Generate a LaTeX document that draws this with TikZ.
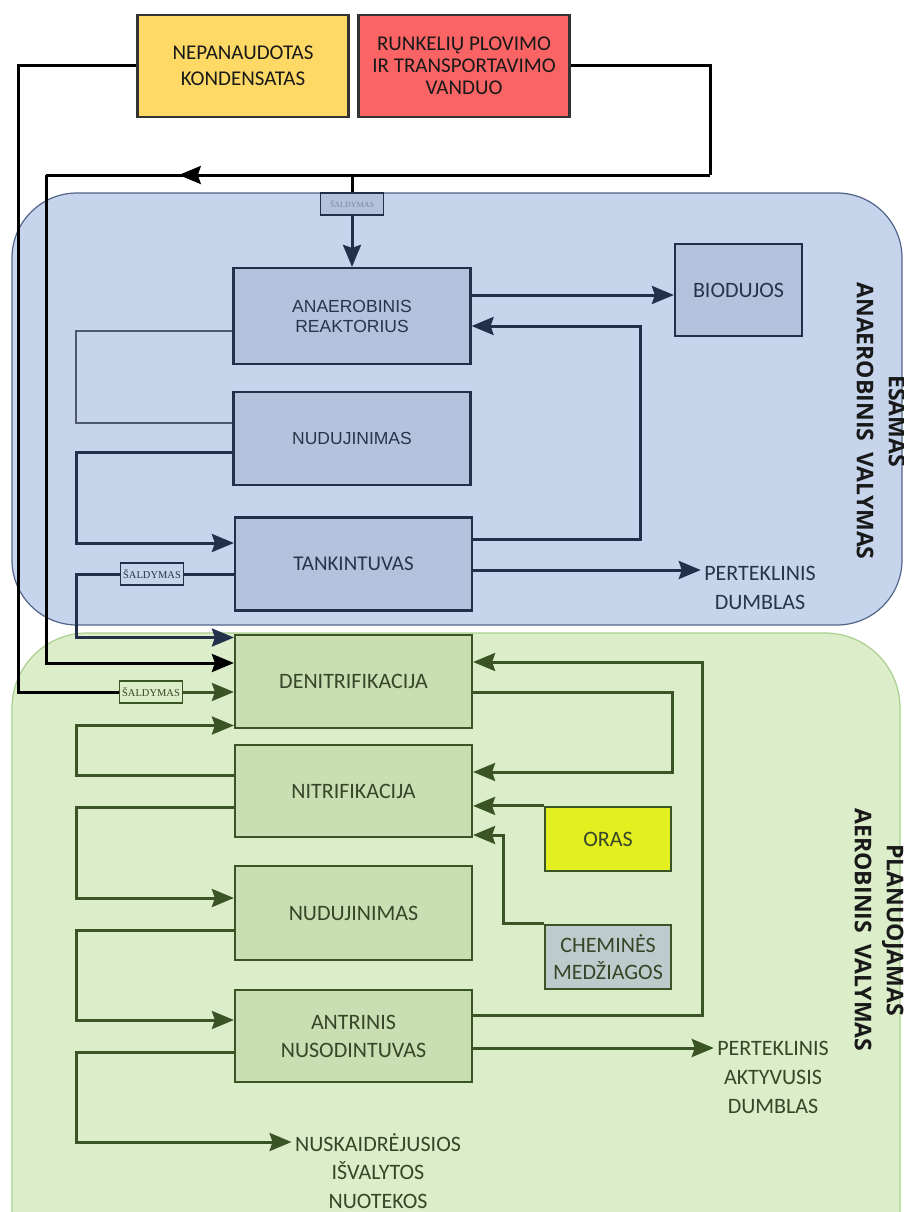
\documentclass[tikz,border=0pt]{standalone}
\usepackage{fontspec}
\setmainfont{Carlito}
\newfontfamily\arialfont{Liberation Sans}
\newfontfamily\coolfont{Liberation Serif}
\newfontfamily\zonefont{Open Sans}
\usetikzlibrary{arrows.meta, positioning, calc, decorations.markings}

\definecolor{zoneblue}{HTML}{C6D4EC}
\definecolor{zonebluedraw}{HTML}{52648A}
\definecolor{upfill}{HTML}{B3C3DE}
\definecolor{upline}{HTML}{22304A}
\definecolor{uptext}{HTML}{283549}
\definecolor{zonegreen}{HTML}{DBEDC9}
\definecolor{zonegreendraw}{HTML}{AACF8E}
\definecolor{lowfill}{HTML}{C9DEB3}
\definecolor{lowline}{HTML}{3A5426}
\definecolor{lowtext}{HTML}{364628}
\definecolor{kondfill}{HTML}{FFD966}
\definecolor{runkfill}{HTML}{FA6464}
\definecolor{orasfill}{HTML}{E3EF1E}
\definecolor{chemfill}{HTML}{BECBCC}

\begin{document}
\begin{tikzpicture}[x=1pt, y=-1pt,
    zone/.style    = {line width=1.2pt, rounded corners=65pt},
    upbox/.style   = {draw=upline, fill=upfill, line width=2.2pt, minimum width=237pt,
                      minimum height=93pt, inner sep=0pt, align=center, text=uptext,
                      font=\fontsize{17.5}{20}\arialfont},
    lowbox/.style  = {draw=lowline, fill=lowfill, line width=2.2pt, minimum width=237pt,
                      minimum height=93pt, inner sep=0pt, align=center, text=lowtext,
                      font=\fontsize{22}{28}\selectfont},
    srcbox/.style  = {draw=black!80, line width=2.4pt, minimum width=211pt,
                      minimum height=102pt, inner sep=0pt, align=center, text=black!90,
                      font=\fontsize{21}{26}\selectfont},
    cool/.style    = {line width=1.6pt, minimum width=63pt, minimum height=22pt,
                      inner sep=0pt, font=\fontsize{10.5}{12}\coolfont},
    outtxt/.style  = {align=center, font=\fontsize{22}{29}\selectfont},
    zonelbl/.style = {rotate=-90, align=center, text=black!90,
                      font=\fontsize{23}{32}\zonefont\bfseries},
    tip/.style     = {-{Stealth[length=22pt, width=18pt, inset=3pt]}},
    blk/.style     = {draw=black, line width=3pt},
    upln/.style    = {draw=upline, line width=3pt},
    upthin/.style  = {draw=upline!80, line width=1.8pt},
    lowln/.style   = {draw=lowline, line width=3pt},
]

\clip (0,0) rectangle (904,1212);
\fill[white] (0,0) rectangle (904,1212);

%% ---- Zones ----
\draw[zone, draw=zonebluedraw, fill=zoneblue] (12,193) rectangle (902,625);
\draw[zone, draw=zonegreendraw, fill=zonegreen, rounded corners=75pt] (12,633) rectangle (900,1290);

\node[zonelbl] (zup)  at (881,421) {ESAMAS\\ANAEROBINIS\enspace VALYMAS};
\node[zonelbl] (zlow) at (879,930) {PLANUOJAMAS\\AEROBINIS\enspace VALYMAS};

%% ---- Column positions ----
\def\xM{352}     % main column
\coordinate (lbus) at (76,0);
\coordinate (rb1)  at (672,0);
\coordinate (rb2)  at (702,0);
\coordinate (cb)   at (503,0);

%% ---- Sources ----
\node[srcbox, fill=kondfill] (kond) at (243,66) {NEPANAUDOTAS\\KONDENSATAS};
\node[srcbox, fill=runkfill, font=\fontsize{21}{22}\selectfont] (runk) at (464,66)
    {RUNKELIŲ PLOVIMO\\IR TRANSPORTAVIMO\\VANDUO};

%% ---- Anaerobic stage ----
\node[upbox, minimum height=96pt] (anr) at (\xM,316) {ANAEROBINIS\\REAKTORIUS};
\node[upbox] (nud1) at (\xM,438.5) {NUDUJINIMAS};
\node[upbox, font=\fontsize{21}{25}\selectfont] (tank) at (353.5,564) {TANKINTUVAS};
\node[upbox, minimum width=127pt, minimum height=92pt, font=\fontsize{22}{26}\selectfont]
    (bio) at (738.5,290) {BIODUJOS};

%% ---- Aerobic stage ----
\node[lowbox] (denit) at (353.5,681.5) {DENITRIFIKACIJA};
\node[lowbox, minimum height=92pt] (nitr) at (353.5,791) {NITRIFIKACIJA};
\node[lowbox, minimum height=94pt] (nud2) at (353.5,913) {NUDUJINIMAS};
\node[lowbox, minimum height=92pt] (antr) at (353.5,1036) {ANTRINIS\\NUSODINTUVAS};
\node[lowbox, fill=orasfill, minimum width=126pt, minimum height=64pt] (oras) at (608,839) {ORAS};
\node[lowbox, fill=chemfill, minimum width=126pt, minimum height=64pt, font=\fontsize{22}{27}\selectfont]
    (chem) at (608,957) {CHEMINĖS\\MEDŽIAGOS};

%% ---- Cooling ----
\node[cool, draw=upline, fill=upfill, text=uptext!60, font=\fontsize{8}{10}\coolfont] (cool1) at (\xM,204) {ŠALDYMAS};
\node[cool, draw=upline, fill=zoneblue, text=uptext] (cool2) at (152,574) {ŠALDYMAS};
\node[cool, draw=lowline, fill=zonegreen, text=lowtext] (cool3) at (151,692) {ŠALDYMAS};

%% ---- Outputs ----
\node[outtxt, text=uptext] (perdum) at (760,588) {PERTEKLINIS\\DUMBLAS};
\node[outtxt, text=lowtext] (peraktyv) at (773,1077) {PERTEKLINIS\\AKTYVUSIS\\DUMBLAS};
\node[outtxt, text=lowtext, font=\fontsize{22}{28.5}\selectfont] (nuotek) at (378,1171)
    {NUSKAIDRĖJUSIOS\\IŠVALYTOS\\NUOTEKOS};

%% ---- Source water lines ----
\coordinate (kL) at (18,692);
\draw[blk] (kond.west) -| (kL) -- (cool3.west);
\draw[lowln, tip] (cool3.east) -- (cool3.east -| denit.west);

\coordinate (rR) at (710,175);
\coordinate (rL) at (46,175);
\draw[blk] (runk.east) -| (rR);
\draw[blk, postaction={decorate}, decoration={markings,
      mark=at position 0.8 with {\arrow{Stealth[length=22pt, width=18pt, inset=3pt]}}}]
    (rR) -- (rL);
\draw[blk, tip] (rL) |- ([yshift=18.5pt]denit.west);
\draw[blk] (cool1 |- rR) -- (cool1.north);
\draw[upln, tip] (cool1.south) -- (anr.north);

%% ---- Anaerobic flows ----
\draw[upln, tip] ([yshift=21pt]anr.east) -- ([yshift=21pt]anr.east -| bio.west);
\coordinate (tR) at (640,326);
\draw[upln, tip] ([yshift=25pt]tank.east) -| (tR) -- (tR -| anr.east);
\draw[upln, tip] ([yshift=-6pt]tank.east) -- ([yshift=-6pt]tank.east -| perdum.west);
\draw[upthin] ([yshift=-15pt]anr.west) -- ([yshift=-15pt]anr.west -| lbus)
    |- ([yshift=15.5pt]nud1.west);
\draw[upln, tip] ([yshift=-13.5pt]nud1.west) -- ([yshift=-13.5pt]nud1.west -| lbus)
    |- ([yshift=21pt]tank.west);
\draw[upln] ([yshift=-10pt]tank.west) -- (cool2.east);
\draw[upln, tip] (cool2.west) -- (cool2.west -| lbus) |- ([yshift=44pt]denit.west);

%% ---- Aerobic flows ----
\draw[lowln, tip] ([yshift=16pt]nitr.west) -- ([yshift=16pt]nitr.west -| lbus)
    |- ([yshift=-44pt]denit.west);
\draw[lowln, tip] ([yshift=-16pt]nitr.west) -- ([yshift=-16pt]nitr.west -| lbus)
    |- ([yshift=15pt]nud2.west);
\draw[lowln, tip] ([yshift=-17pt]nud2.west) -- ([yshift=-17pt]nud2.west -| lbus)
    |- ([yshift=16pt]antr.west);
\draw[lowln, tip] ([yshift=-16pt]antr.west) -- ([yshift=-16pt]antr.west -| lbus)
    |- ([yshift=29pt]nuotek.west);

\draw[lowln, tip] ([yshift=-10.5pt]denit.east) -- ([yshift=-10.5pt]denit.east -| rb1)
    |- ([yshift=19pt]nitr.east);
\draw[lowln, tip] ([yshift=21pt]antr.east) -- ([yshift=21pt]antr.east -| rb2)
    |- ([yshift=19.5pt]denit.east);
\draw[lowln, tip] ([yshift=-12pt]antr.east) -- ([yshift=-12pt]antr.east -| peraktyv.west);
\draw[lowln, tip] (oras.north west) -- (oras.north west -| nitr.east);
\draw[lowln, tip] (chem.north west) -- (chem.north west -| cb) |- ([yshift=-44pt]nitr.east);

\end{tikzpicture}
\end{document}
